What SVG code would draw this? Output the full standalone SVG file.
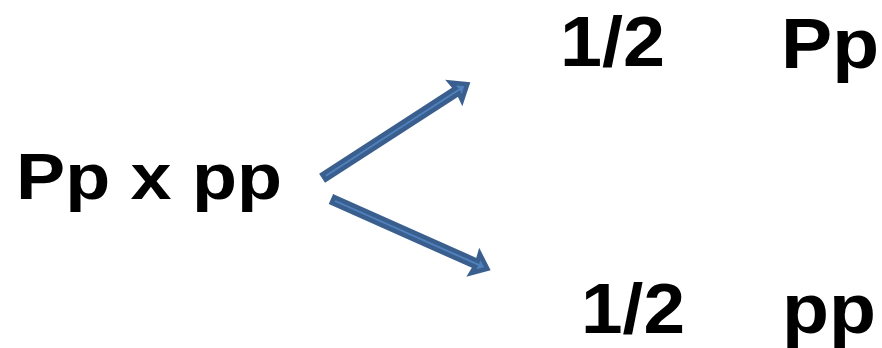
<svg xmlns="http://www.w3.org/2000/svg" width="882" height="348" viewBox="0 0 882 348">
<style>
.t{font-family:"Liberation Sans",Arial,sans-serif;font-weight:bold;fill:#000}
.a{fill:#4F81BD;stroke:#3A5F8F;stroke-width:4.5;stroke-linejoin:miter}
</style>
<defs>
<polygon id="arr" points="0,-3.2 157,-3.2 156,-10.5 169,0 156,10.5 157,3.2 0,3.2"/>
</defs>
<rect width="882" height="348" fill="#fff"/>
<g id="connectors">
<use href="#arr" class="a" transform="translate(324,177) rotate(-32.9) scale(1.01,1)"/>
<use href="#arr" class="a" transform="translate(333,200) rotate(24)"/>
</g>
<g id="cross"><text class="t" x="16" y="199" font-size="64" textLength="266" lengthAdjust="spacingAndGlyphs">Pp x pp</text></g>
<g id="top-ratio"><text class="t" x="560" y="66" font-size="70" textLength="105" lengthAdjust="spacingAndGlyphs">1/2</text></g>
<g id="top-genotype"><text class="t" x="781" y="68" font-size="70" textLength="98" lengthAdjust="spacingAndGlyphs">Pp</text></g>
<g id="bottom-ratio"><text class="t" x="581" y="333" font-size="70" textLength="104" lengthAdjust="spacingAndGlyphs">1/2</text></g>
<g id="bottom-genotype"><text class="t" x="782" y="333" font-size="71" textLength="94" lengthAdjust="spacingAndGlyphs">pp</text></g>
</svg>
